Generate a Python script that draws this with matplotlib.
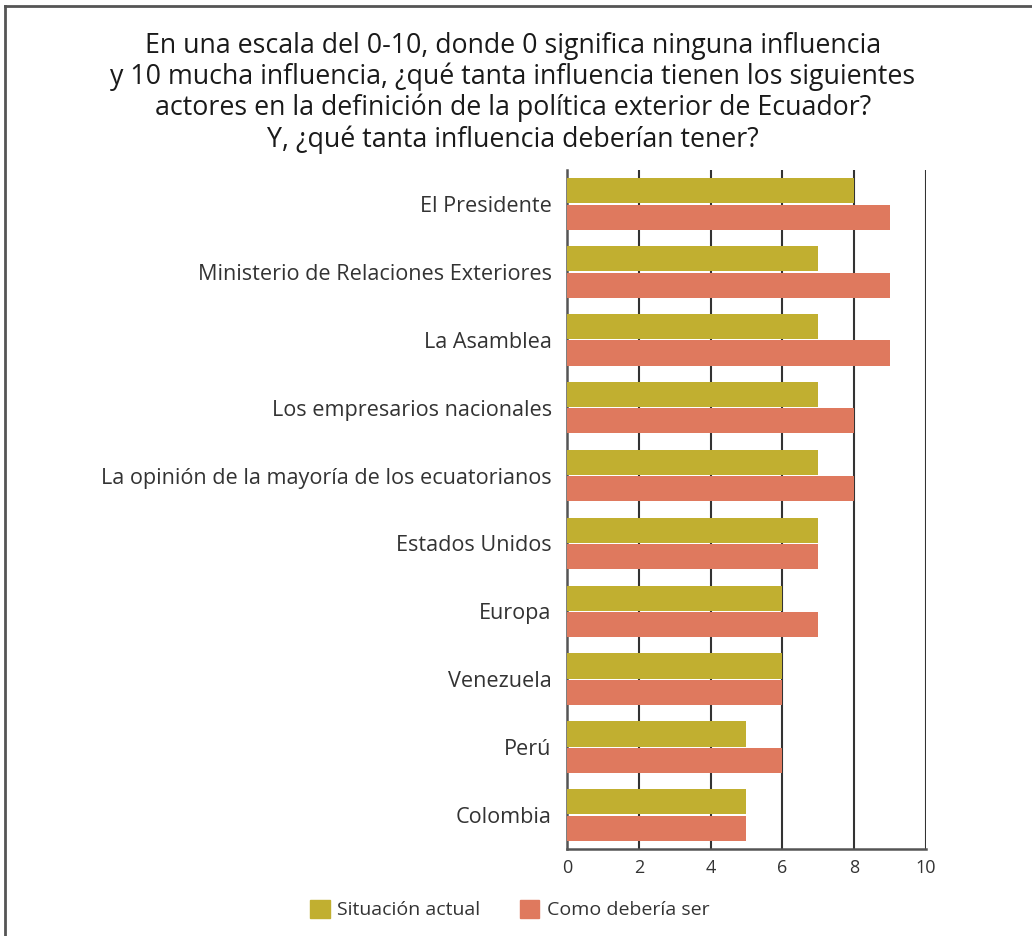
import numpy as np
import matplotlib.pyplot as plt
from matplotlib.patches import Patch
from matplotlib.lines import Line2D

plt.rcParams['font.family'] = ['Open Sans', 'DejaVu Sans']

# Datos
actores = ['El Presidente', 'Ministerio de Relaciones Exteriores', 'La Asamblea',
           'Los empresarios nacionales', 'La opinión de la mayoría de los ecuatorianos',
           'Estados Unidos', 'Europa', 'Venezuela', 'Perú', 'Colombia']
situacion_actual = [8, 7, 7, 7, 7, 7, 6, 6, 5, 5]
deberia_ser = [9, 9, 9, 8, 8, 7, 7, 6, 6, 5]
ticks = [0, 2, 4, 6, 8, 10]

col_actual = '#C1AF30'
col_deberia = '#DF795E'
gris = '#333333'

titulo = ('En una escala del 0-10, donde 0 significa ninguna influencia\n'
          'y 10 mucha influencia, ¿qué tanta influencia tienen los siguientes\n'
          'actores en la definición de la política exterior de Ecuador?\n'
          'Y, ¿qué tanta influencia deberían tener?')

fig = plt.figure(figsize=(10.32, 9.36), dpi=100)
ax = fig.add_axes([0.5494, 0.0929, 0.3479, 0.7255])

y = np.arange(len(actores))
h = 0.37
ax.barh(y - 0.195, situacion_actual, height=h, color=col_actual, zorder=3)
ax.barh(y + 0.195, deberia_ser, height=h, color=col_deberia, zorder=3)

ax.set_xlim(0, 10)
ax.set_ylim(len(actores) - 0.5, -0.5)
ax.set_xticks(ticks)
ax.set_yticks(y)
ax.set_yticklabels(actores, fontsize=15.6, color=gris)
ax.tick_params(axis='y', length=0, pad=11)
ax.tick_params(axis='x', length=0, pad=7, labelsize=13, labelcolor=gris)
for t in ticks[1:]:
    ax.axvline(t, color=gris, lw=1.5, zorder=1)
for s in ['top', 'right']:
    ax.spines[s].set_visible(False)
for s in ['left', 'bottom']:
    ax.spines[s].set_color('#555555')
    ax.spines[s].set_linewidth(1.8)

fig.text(0.497, 0.966, titulo, ha='center', va='top', fontsize=19.3,
         color='#1a1a1a', linespacing=1.13)

handles = [Patch(color=col_actual, label='Situación actual'),
           Patch(color=col_deberia, label='Como debería ser')]
fig.legend(handles=handles, loc='center', bbox_to_anchor=(0.494, 0.028), ncol=2,
           frameon=False, fontsize=14, handlelength=1.0, handleheight=1.0,
           handletextpad=0.4, columnspacing=2.0, labelcolor=gris)

# marco
fig.add_artist(Line2D([0.005, 0.005], [0, 0.9935], color='#555555', lw=2))
fig.add_artist(Line2D([0.005, 1], [0.9935, 0.9935], color='#555555', lw=2))

fig.savefig('out.png', dpi=100)
